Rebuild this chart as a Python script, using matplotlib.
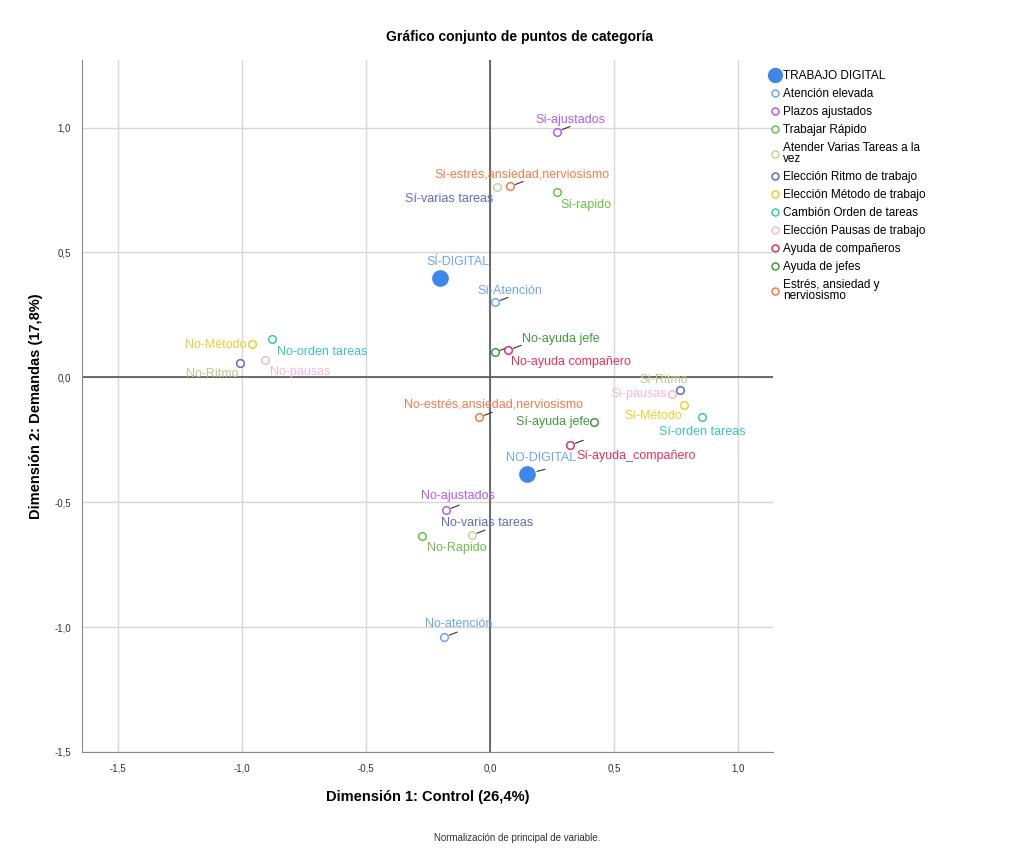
import matplotlib
matplotlib.use("Agg")
import matplotlib.pyplot as plt
from matplotlib.lines import Line2D

plt.rcParams['font.family'] = ['Liberation Sans', 'DejaVu Sans']

# variables (legend order), their colours for markers and for text labels
variables = ["TRABAJO DIGITAL", "Atención elevada", "Plazos ajustados", "Trabajar Rápido",
             "Atender Varias Tareas a la\nvez", "Elección Ritmo de trabajo",
             "Elección Método de trabajo", "Cambión Orden de tareas",
             "Elección Pausas de trabajo", "Ayuda de compañeros", "Ayuda de jefes",
             "Estrés, ansiedad y\nnerviosismo"]
marker_colors = ["#3f87e6", "#6ea6ee", "#b45cf0", "#6cc04a", "#d2cf9c", "#5f6db8",
                 "#e6d230", "#3cc6b2", "#f6b8d6", "#e4345c", "#3f9a3f", "#f27c4c"]
label_colors = ["#6ea6ee", "#6ea6ee", "#b45cf0", "#6cc04a", "#5f6db8", "#c9c28e",
                "#e6d230", "#3cc6b2", "#f6b8d6", "#e4345c", "#3f9a3f", "#f27c4c"]

# category points: label, variable index, dim1, dim2
cat_labels = ["SÍ-DIGITAL", "NO-DIGITAL",
              "Sí-Atención", "No-atención",
              "Sí-ajustados", "No-ajustados",
              "Sí-rapido", "No-Rapido",
              "Sí-varias tareas", "No-varias tareas",
              "Sí-Ritmo", "No-Ritmo",
              "Sí-Método", "No-Método",
              "Sí-orden tareas", "No-orden tareas",
              "Sí-pausas", "No-pausas",
              "Sí-ayuda_compañero", "No-ayuda compañero",
              "Sí-ayuda jefe", "No-ayuda jefe",
              "Sí-estrés,ansiedad,nerviosismo", "No-estrés,ansiedad,nerviosismo"]
cat_var = [0, 0, 1, 1, 2, 2, 3, 3, 4, 4, 5, 5, 6, 6, 7, 7, 8, 8, 9, 9, 10, 10, 11, 11]
dim1 = [-0.202, 0.149, 0.020, -0.185, 0.270, -0.177, 0.270, -0.274, 0.028, -0.073,
        0.766, -1.008, 0.782, -0.960, 0.855, -0.879, 0.734, -0.907, 0.323, 0.073,
        0.419, 0.020, 0.081, -0.044]
dim2 = [0.396, -0.388, 0.300, -1.040, 0.984, -0.532, 0.740, -0.636, 0.760, -0.632,
        -0.052, 0.056, -0.112, 0.132, -0.160, 0.152, -0.068, 0.068, -0.272, 0.108,
        -0.180, 0.100, 0.764, -0.160]

# label centre offsets in pixels relative to the marker, and whether a leader stub is drawn
label_off = [(18, 16), (14, 16), (15, 11), (14, 13), (13, 12), (12, 14),
             (29, -13), (35, -12), (-48, -12), (15, 12),
             (-16, 10), (-28, -11), (-31, -11), (-36, -1), (0, -15), (50, -13),
             (-33, 0), (35, -12), (66, -11), (63, -12),
             (-41, 0), (66, 13), (12, 12), (14, 13)]
leader = [False, True, True, True, True, True, False, False, False, True,
          False, False, False, False, False, False, False, False, True, True,
          False, True, True, True]

fig = plt.figure(figsize=(10.12, 8.5), dpi=100)
ax = fig.add_axes([0.081, 0.1153, 0.683, 0.8140])

ax.set_xlim(-1.645, 1.141)
ax.set_ylim(-1.5, 1.27)
ax.set_xticks([-1.5, -1.0, -0.5, 0.0, 0.5, 1.0])
ax.set_yticks([-1.5, -1.0, -0.5, 0.0, 0.5, 1.0])
fmt = lambda v: f"{v:.1f}".replace(".", ",")
ax.set_xticklabels([fmt(v) for v in ax.get_xticks()], fontsize=7, color="#333333")
ax.set_yticklabels([fmt(v) for v in ax.get_yticks()], fontsize=7, color="#333333")
ax.tick_params(length=0, pad=8)
ax.grid(True, color="#d6d6d6", linewidth=1)
ax.set_axisbelow(True)
for s in ["top", "right"]:
    ax.spines[s].set_visible(False)
for s in ["left", "bottom"]:
    ax.spines[s].set_color("#888888")
ax.axhline(0, color="#555555", linewidth=1.2, zorder=1)
ax.axvline(0, color="#555555", linewidth=1.2, zorder=1)

for lab, v, x, y, off, ld in zip(cat_labels, cat_var, dim1, dim2, label_off, leader):
    if v == 0:
        ax.plot(x, y, "o", ms=11, color=marker_colors[v], zorder=3)
    else:
        ax.plot(x, y, "o", ms=5.5, mfc="white", mec=marker_colors[v], mew=1.1, zorder=3)
    if ld:
        rad = 9 if v == 0 else 4
        ax.annotate("", (x, y), xytext=(rad + 9, 5), textcoords="offset pixels",
                    arrowprops=dict(arrowstyle="-", color="#333333", lw=0.8,
                                    shrinkA=0, shrinkB=rad * 0.72 + 1), zorder=2)
    ax.annotate(lab, (x, y), xytext=off, textcoords="offset pixels",
                ha="center", va="center", fontsize=9, color=label_colors[v], zorder=4)

ax.set_xlabel("Dimensión 1: Control (26,4%)", fontsize=10.5, fontweight="bold", labelpad=12)
ax.set_ylabel("Dimensión 2: Demandas (17,8%)", fontsize=10.5, fontweight="bold", labelpad=8)
fig.text(0.513, 0.957, "Gráfico conjunto de puntos de categoría", ha="center", va="center",
         fontsize=10, fontweight="bold")
fig.text(0.511, 0.014, "Normalización de principal de variable.", ha="center", va="center",
         fontsize=7, color="#333333")

handles = []
for i, name in enumerate(variables):
    if i == 0:
        h = Line2D([], [], marker="o", ls="", ms=10, color=marker_colors[i])
    else:
        h = Line2D([], [], marker="o", ls="", ms=5, mfc="white", mec=marker_colors[i], mew=1.1)
    handles.append(h)
leg = fig.legend(handles, variables, loc="upper left", bbox_to_anchor=(0.755, 0.923),
                 frameon=False, fontsize=8.5, handletextpad=0.2, labelspacing=0.5,
                 handlelength=1.0, borderaxespad=0)
for t in leg.get_texts():
    t.set_linespacing(0.95)

fig.savefig("out.png", dpi=100)
